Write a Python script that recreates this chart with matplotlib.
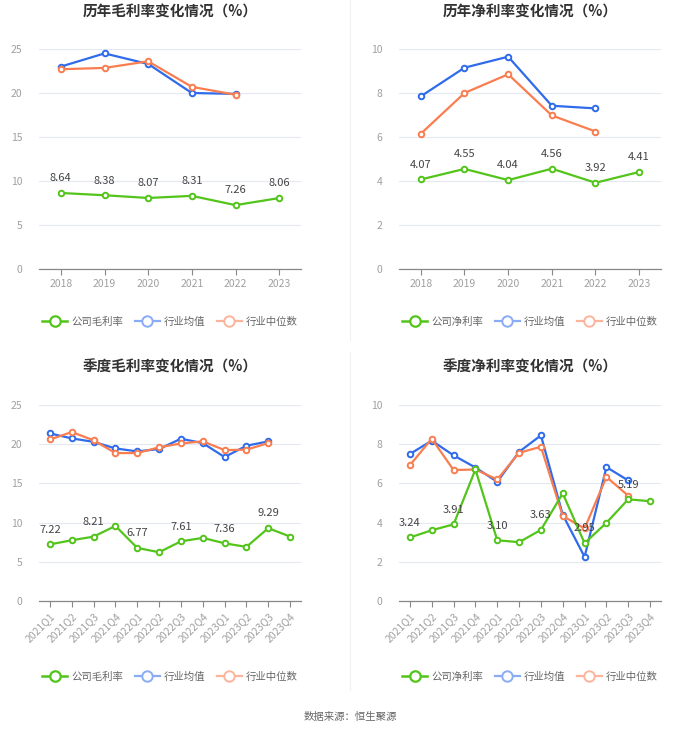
import matplotlib
matplotlib.use("Agg")
import matplotlib.pyplot as plt
from matplotlib.lines import Line2D

plt.rcParams['font.family'] = ['Noto Sans CJK SC', 'DejaVu Sans']

years = ["2018", "2019", "2020", "2021", "2022", "2023"]
quarters = ["2021Q1", "2021Q2", "2021Q3", "2021Q4", "2022Q1", "2022Q2",
            "2022Q3", "2022Q4", "2023Q1", "2023Q2", "2023Q3", "2023Q4"]

# Annual gross margin
gross_company = [8.64, 8.38, 8.07, 8.31, 7.26, 8.06]
gross_avg = [23.0, 24.5, 23.3, 20.0, 19.9]
gross_median = [22.7, 22.85, 23.6, 20.7, 19.8]

# Annual net margin
net_company = [4.07, 4.55, 4.04, 4.56, 3.92, 4.41]
net_avg = [7.85, 9.15, 9.65, 7.42, 7.3]
net_median = [6.15, 8.0, 8.85, 6.98, 6.25]

# Quarterly gross margin
qgross_company = [7.22, 7.75, 8.21, 9.58, 6.77, 6.22, 7.61, 8.05, 7.36, 6.9, 9.29, 8.22]
qgross_avg = [21.38, 20.74, 20.3, 19.46, 19.08, 19.38, 20.7, 20.14, 18.36, 19.8, 20.36]
qgross_median = [20.6, 21.55, 20.5, 18.87, 18.87, 19.6, 20.1, 20.36, 19.25, 19.3, 20.14]

# Quarterly net margin
qnet_company = [3.24, 3.61, 3.91, 6.71, 3.10, 3.0, 3.63, 5.49, 2.95, 3.99, 5.19, 5.09]
qnet_avg = [7.5, 8.18, 7.43, 6.81, 6.08, 7.61, 8.45, 4.4, 2.25, 6.83, 6.15]
qnet_median = [6.93, 8.28, 6.68, 6.71, 6.2, 7.56, 7.87, 4.34, 3.7, 6.33, 5.37]

titles = ["历年毛利率变化情况（%）", "历年净利率变化情况（%）",
          "季度毛利率变化情况（%）", "季度净利率变化情况（%）"]
legend_company = ["公司毛利率", "公司净利率", "公司毛利率", "公司净利率"]

GREEN = "#52c41a"
BLUE = "#2f6bea"
ORANGE = "#fa7d50"
BLUE_L = "#8aabf5"
ORANGE_L = "#fcb59b"

fig = plt.figure(figsize=(7.0, 7.33), dpi=100)

W, H = 700, 733
def ax_rect(x0, y_top, x1, y_bot):
    return [x0 / W, 1 - y_bot / H, (x1 - x0) / W, (y_bot - y_top) / H]

rects = [ax_rect(39, 49, 301, 269), ax_rect(399, 49, 661, 269),
         ax_rect(39, 405, 301, 601), ax_rect(399, 405, 661, 601)]

panels = [
    (years, gross_company, gross_avg, gross_median, 25, 5, False),
    (years, net_company, net_avg, net_median, 10, 2, False),
    (quarters, qgross_company, qgross_avg, qgross_median, 25, 5, True),
    (quarters, qnet_company, qnet_avg, qnet_median, 10, 2, True),
]

for i, (cats, comp, avg, med, ymax, step, quarterly) in enumerate(panels):
    ax = fig.add_axes(rects[i])
    x = list(range(len(cats)))
    mk = dict(marker='o', markersize=4.0, markerfacecolor='white', markeredgewidth=1.4, linewidth=1.6)
    ax.plot(x[:len(avg)], avg, color=BLUE, zorder=3, **mk)
    ax.plot(x[:len(med)], med, color=ORANGE, zorder=3, **mk)
    ax.plot(x, comp, color=GREEN, zorder=4, **mk)
    for j, v in enumerate(comp):
        if quarterly and j % 2 == 1:
            continue
        ax.annotate(f"{v:.2f}", (j, v), xytext=(0, 7), textcoords='offset points',
                    ha='center', va='bottom', fontsize=8, color='#444444', zorder=5)
    ax.set_xlim(-0.5, len(cats) - 0.5)
    ax.set_ylim(0, ymax)
    ax.set_yticks(list(range(0, ymax + 1, step)))
    ax.set_xticks(x)
    if quarterly:
        ax.set_xticklabels(cats, rotation=45, ha='right', rotation_mode='anchor')
    else:
        ax.set_xticklabels(cats)
    ax.tick_params(axis='x', labelcolor='#a0a0a0', labelsize=7.5, length=4, width=0.8, pad=3, color='#888888')
    ax.tick_params(axis='y', labelcolor='#a0a0a0', labelsize=7.5, length=0, pad=12)
    for s in ['top', 'right', 'left']:
        ax.spines[s].set_visible(False)
    ax.spines['bottom'].set_color('#888888')
    ax.spines['bottom'].set_linewidth(0.9)
    ax.grid(axis='y', color='#e3e8f2', linewidth=0.8)
    ax.set_axisbelow(True)

    cx = rects[i][0] + rects[i][2] / 2
    title_y = 12 if i < 2 else 367
    fig.text(cx, 1 - title_y / H, titles[i], ha='center', va='center',
             fontsize=10.5, fontweight='bold', color='#333333')

    handles = [
        Line2D([], [], color=GREEN, marker='o', markersize=7.5, markerfacecolor='white', markeredgewidth=1.6, linewidth=1.8),
        Line2D([], [], color=BLUE_L, marker='o', markersize=7.5, markerfacecolor='white', markeredgewidth=1.4, linewidth=1.6),
        Line2D([], [], color=ORANGE_L, marker='o', markersize=7.5, markerfacecolor='white', markeredgewidth=1.4, linewidth=1.6),
    ]
    leg_y = 322 if i < 2 else 677
    leg = fig.legend(handles, [legend_company[i], "行业均值", "行业中位数"],
                     loc='center', bbox_to_anchor=(cx, 1 - leg_y / H), ncol=3, frameon=False,
                     fontsize=7.5, handlelength=2.4, handletextpad=0.4, columnspacing=1.1)
    for t in leg.get_texts():
        t.set_color('#666666')

# faint separators
fig.add_artist(Line2D([350 / W, 350 / W], [1 - 0 / H, 1 - 340 / H], color='#f0f0f0', linewidth=0.8))
fig.add_artist(Line2D([350 / W, 350 / W], [1 - 352 / H, 1 - 690 / H], color='#f0f0f0', linewidth=0.8))

fig.text(0.5, 1 - 717 / H, "数据来源：恒生聚源", ha='center', va='center', fontsize=7.5, color='#666666')

fig.savefig("out.png", dpi=100, facecolor='white')
